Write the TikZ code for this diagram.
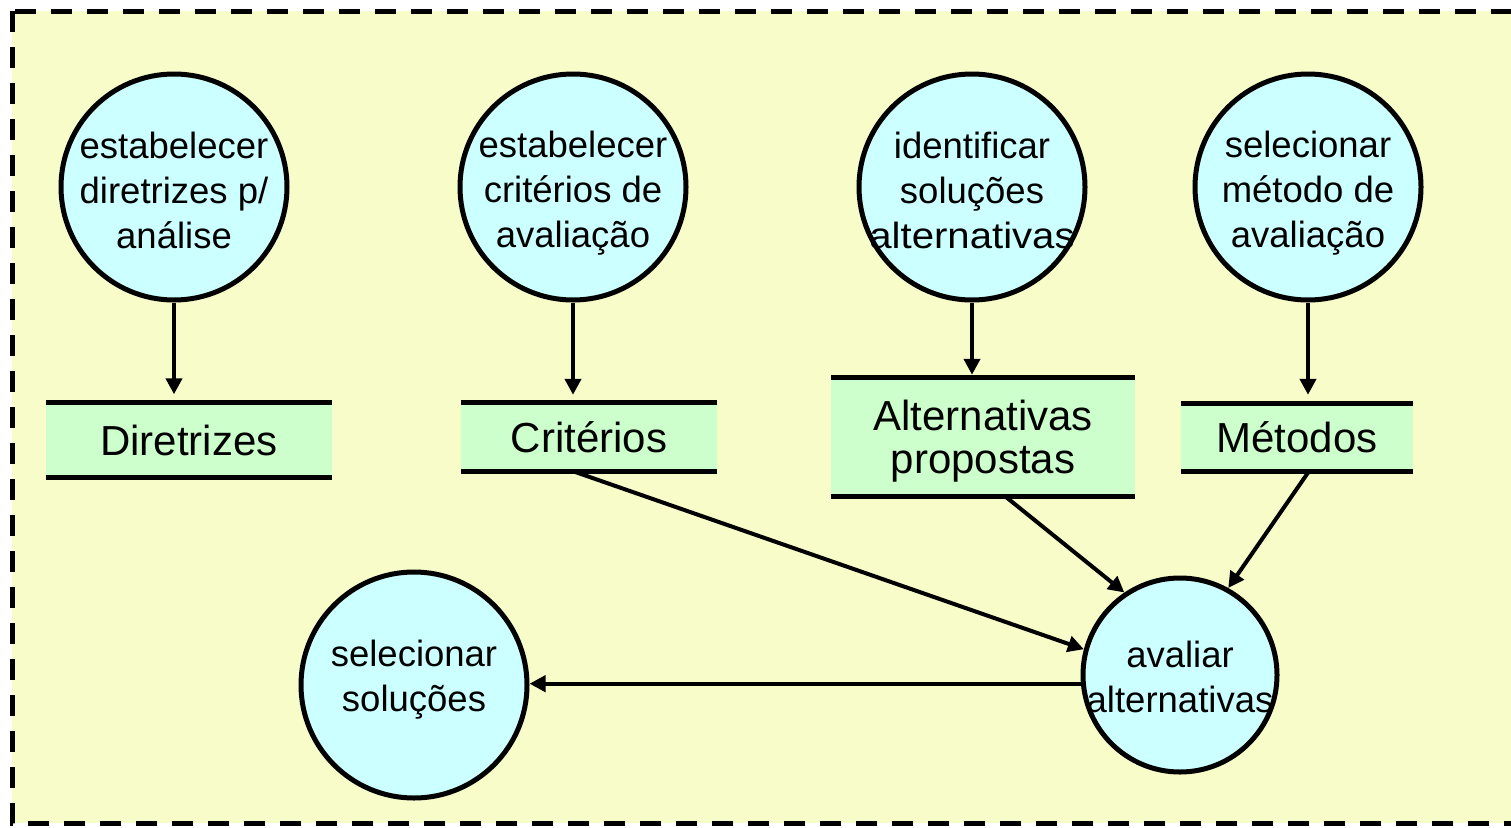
\documentclass[tikz,border=0pt]{standalone}
\usepackage{fontspec}
\usepackage{graphicx}
\setmainfont{Liberation Sans}
\usetikzlibrary{arrows.meta,calc}
\definecolor{bgyellow}{RGB}{248,252,200}
\definecolor{proccyan}{RGB}{204,255,255}
\definecolor{storegreen}{RGB}{204,255,204}
\begin{document}
\begin{tikzpicture}[x=1pt,y=-1pt,
  proc/.style={circle, draw=black, line width=5pt, fill=proccyan, minimum size=226pt, inner sep=0pt},
  ptext/.style={align=center, inner sep=0pt, font=\fontsize{36.5}{45}\selectfont},
  store/.style={rectangle, fill=storegreen, inner sep=0pt, align=center, font=\fontsize{42}{43}\selectfont},
  storeline/.style={line width=5pt},
  arr/.style={line width=4pt, -{Triangle[length=16pt,width=16pt]}},
]
\useasboundingbox (0,0) rectangle (1511,827);
\fill[bgyellow] (12,11) rectangle (1516,823);
\draw[line width=5pt, dash pattern=on 21pt off 15pt] (12,11) rectangle (1516,823);

% processes
\node[proc, label={[ptext,yshift=-3pt]center:{estabelecer\\diretrizes p/\\análise}}] (p1) at (174,187) {};
\node[proc, label={[ptext,yshift=-6pt]center:{estabelecer\\critérios de\\avaliação}}] (p2) at (573,187) {};
\node[proc, label={[ptext,yshift=-3pt]center:{identificar\\soluções\\\scalebox{1.1}[1]{alternativas}}}] (p3) at (972,187) {};
\node[proc, label={[ptext,yshift=-6pt]center:{selecionar\\método de\\avaliação}}] (p4) at (1308,187) {};
\node[proc, label={[ptext,yshift=5pt]center:{selecionar\\soluções}}] (sel) at (414,685) {};
\node[proc, minimum size=194pt, label={[ptext,yshift=-2pt]center:{avaliar\\alternativas}}] (aval) at (1180,675) {};

% stores
\node[store, minimum width=286pt, minimum height=75pt] (s1) at (189,440) {Diretrizes};
\node[store, minimum width=256pt, minimum height=68pt] (s2) at (589,437) {Critérios};
\node[store, minimum width=304pt, minimum height=118pt, text depth=0pt] (s3) at (983,437) {Alternativas\\propostas};
\node[store, minimum width=232pt, minimum height=67pt] (s4) at (1297,437.5) {Métodos};
\foreach \s in {s1,s2,s3,s4}{
  \draw[storeline] (\s.north west) -- (\s.north east);
  \draw[storeline] (\s.south west) -- (\s.south east);
}

% flows
\draw[arr, shorten >=8pt] (p1.south) -- (p1.south |- s1.north);
\draw[arr, shorten >=8pt] (p2.south) -- (p2.south |- s2.north);
\draw[arr, shorten >=3pt] (p3.south) -- (p3.south |- s3.north);
\draw[arr, shorten >=9pt] (p4.south) -- (p4.south |- s4.north);
\draw[arr] ([xshift=-16pt]s2.south) -- (aval.165);
\draw[arr] ([xshift=22pt]s3.south) -- (aval.124);
\draw[arr] ([xshift=12pt]s4.south) -- (aval.61);
\draw[arr] (aval.185) -- (aval.185 -| sel.east);
\end{tikzpicture}
\end{document}
